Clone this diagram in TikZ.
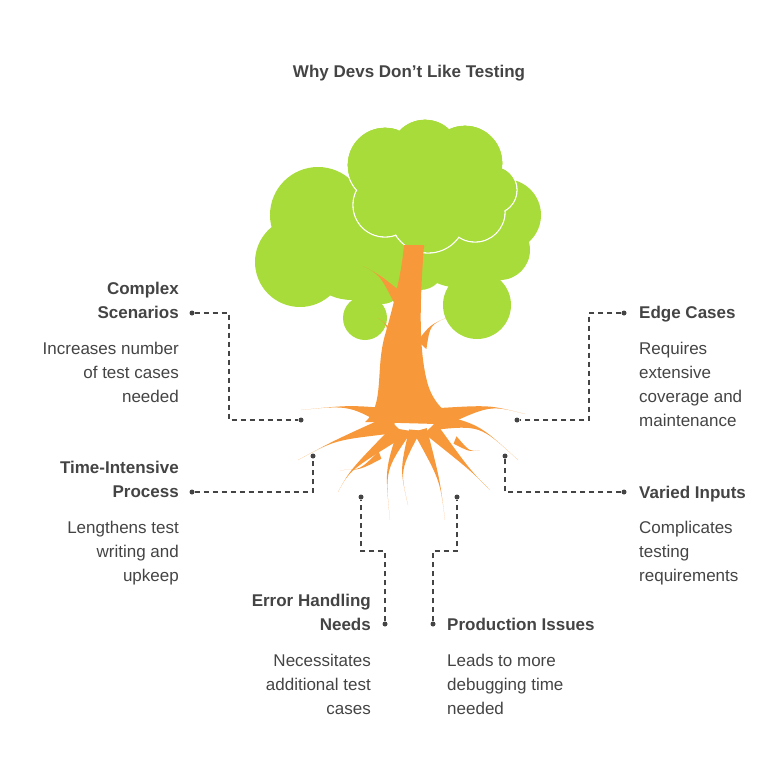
\documentclass[tikz,border=0pt]{standalone}
\usepackage{fontspec}
\setmainfont{Liberation Sans}
\usetikzlibrary{positioning,calc}
\definecolor{leaf}{HTML}{A8DC3A}
\definecolor{bark}{HTML}{F7983A}
\definecolor{ink}{HTML}{444444}
\tikzset{
  head/.style={font=\fontsize{17}{24}\selectfont\bfseries,text=ink,inner sep=0pt},
  body/.style={font=\fontsize{17}{24}\selectfont,text=ink,inner sep=0pt},
  link/.style={draw=ink,dashed,dash pattern=on 5pt off 4pt,line width=1.3pt},
  dot/.style={circle,fill=ink,inner sep=0pt,minimum size=5pt},
}
\newcommand{\rootline}[4]{% start, control, end, half width
  \fill[bark] ($(#1)!#4pt!90:(#3)$) .. controls (#2) .. (#3) .. controls (#2) .. ($(#1)!#4pt!-90:(#3)$) -- cycle;}
\begin{document}
\begin{tikzpicture}[x=1pt,y=-1pt]
\useasboundingbox (0,0) rectangle (782,782);
\node[head] (title) at (409,73) {Why Devs Don't Like Testing};
% canopy
\fill[leaf] (318,215) circle (48) (300,262) circle (45) (352,245) circle (55)
  (395,262) circle (35) (505,215) circle (36) (500,250) circle (30) (455,245) circle (42)
  (365,318) circle (22) (477,305) circle (34) (382,282) circle (22) (420,265) circle (25);
\filldraw[leaf,draw=white,line width=1.3pt] (385,165) circle (38) (425,155) circle (36) (465,163) circle (38)
  (493,190) circle (24) (475,212) circle (30) (428,215) circle (38) (385,205) circle (32);
\fill[leaf] (385,165) circle (37.3) (425,155) circle (35.3) (465,163) circle (37.3)
  (493,190) circle (23.3) (475,212) circle (29.3) (428,215) circle (37.3) (385,205) circle (31.3);
% trunk and branches
\fill[bark] (365,422) .. controls (385,405) and (375,370) .. (385,335)
  .. controls (395,300) and (402,270) .. (404,245) -- (424,245)
  .. controls (420,300) and (418,350) .. (428,385) .. controls (436,410) and (455,420) .. (472,425) -- cycle;
\rootline{400,300}{380,275}{363,266}{7}
\rootline{392,345}{388,325}{378,318}{6}
\rootline{422,345}{430,325}{448,317}{6}
\rootline{412,270}{418,255}{426,245}{4}
% roots
\rootline{395,420}{350,405}{301,410}{11}
\rootline{390,425}{335,440}{298,460}{9}
\rootline{400,430}{350,470}{338,492}{8}
\rootline{405,430}{385,470}{390,520}{7}
\rootline{415,430}{400,470}{408,505}{6}
\rootline{420,430}{440,480}{445,520}{7}
\rootline{430,428}{470,470}{490,490}{8}
\rootline{435,422}{480,425}{518,460}{9}
\rootline{440,418}{490,405}{525,414}{10}
\rootline{380,455}{360,470}{340,470}{4}
\rootline{455,440}{470,452}{480,450}{4}
% labels
\node[head,align=right,anchor=north east] (complex) at (179,282) {Complex\\Scenarios};
\node[body,align=right,anchor=north east] (complexd) at (179,342) {Increases number\\of test cases\\needed};
\node[head,align=right,anchor=north east] (time) at (179,461) {Time-Intensive\\Process};
\node[body,align=right,anchor=north east] (timed) at (179,521) {Lengthens test\\writing and\\upkeep};
\node[head,align=right,anchor=north east] (error) at (371,594) {Error Handling\\Needs};
\node[body,align=right,anchor=north east] (errord) at (371,654) {Necessitates\\additional test\\cases};
\node[head,align=left,anchor=north west] (prod) at (447,618) {Production Issues};
\node[body,align=left,anchor=north west] (prodd) at (447,654) {Leads to more\\debugging time\\needed};
\node[head,align=left,anchor=north west] (edge) at (639,306) {Edge Cases};
\node[body,align=left,anchor=north west] (edged) at (639,342) {Requires\\extensive\\coverage and\\maintenance};
\node[head,align=left,anchor=north west] (varied) at (639,486) {Varied Inputs};
\node[body,align=left,anchor=north west] (variedd) at (639,521) {Complicates\\testing\\requirements};
% connectors
\node[dot] (c1) at (192,313) {}; \node[dot] (c2) at (301,420) {};
\node[dot] (t1) at (192,492) {}; \node[dot] (t2) at (313,456) {};
\node[dot] (e1) at (385,624) {}; \node[dot] (e2) at (361,497) {};
\node[dot] (p1) at (433,624) {}; \node[dot] (p2) at (457,497) {};
\node[dot] (g1) at (624,313) {}; \node[dot] (g2) at (517,420) {};
\node[dot] (v1) at (624,492) {}; \node[dot] (v2) at (505,456) {};
\draw[link] (c1) -- (229,313) -- (229,420) -- (c2);
\draw[link] (t1) -- (313,492) -- (t2);
\draw[link] (e1) -- (385,551) -- (361,551) -- (e2);
\draw[link] (p1) -- (433,551) -- (457,551) -- (p2);
\draw[link] (g1) -- (589,313) -- (589,420) -- (g2);
\draw[link] (v1) -- (505,492) -- (v2);
\end{tikzpicture}
\end{document}
